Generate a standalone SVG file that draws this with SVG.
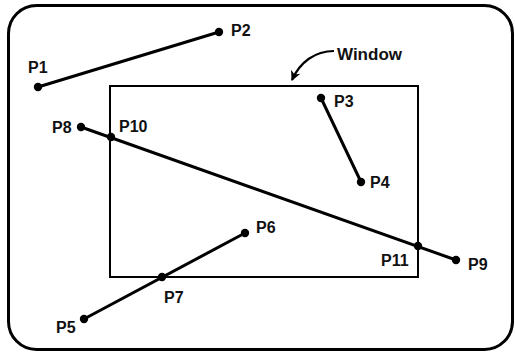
<svg xmlns="http://www.w3.org/2000/svg" width="515" height="355" viewBox="0 0 515 355">
<defs>
<style>
.frame{fill:none;stroke:#000;stroke-width:3}
.win{fill:none;stroke:#000;stroke-width:2}
.seg{stroke:#000;stroke-width:3;stroke-linecap:round}
.dot{fill:#000}
.lbl{font-family:"Liberation Sans",Arial,sans-serif;font-size:16px;font-weight:bold;fill:#111}
.big{font-size:17px}
.call{fill:none;stroke:#000;stroke-width:2.2}
</style>
<marker id="ah" viewBox="0 0 10 10" refX="9" refY="5" markerWidth="10" markerHeight="10" markerUnits="userSpaceOnUse" orient="auto">
<path d="M0,0 L10,5 L0,10 L3,5 Z" fill="#000"/>
</marker>
</defs>
<rect class="frame" x="8.5" y="5.5" width="504" height="344" rx="28" ry="28"/>
<g id="window">
<rect class="win" x="110" y="86" width="308" height="191"/>
<text class="lbl big" x="337" y="60">Window</text>
</g>
<g id="connectors">
<line class="seg" x1="38" y1="87" x2="219" y2="32"/>
<line class="seg" x1="321" y1="98" x2="361" y2="182"/>
<line class="seg" x1="81" y1="127" x2="456" y2="260"/>
<line class="seg" x1="84" y1="319" x2="245" y2="233"/>
<path class="call" d="M334,51 C315,51 300,62 292,80" marker-end="url(#ah)"/>
</g>
<g id="P1"><circle class="dot" cx="38" cy="87" r="4.2"/><text class="lbl" x="28" y="73">P1</text></g>
<g id="P2"><circle class="dot" cx="219" cy="32" r="4.2"/><text class="lbl" x="231" y="36">P2</text></g>
<g id="P3"><circle class="dot" cx="321" cy="98" r="4.2"/><text class="lbl" x="334" y="107">P3</text></g>
<g id="P4"><circle class="dot" cx="361" cy="182" r="4.2"/><text class="lbl" x="370" y="188">P4</text></g>
<g id="P5"><circle class="dot" cx="84" cy="319" r="4.2"/><text class="lbl" x="56" y="333">P5</text></g>
<g id="P6"><circle class="dot" cx="245" cy="233" r="4.2"/><text class="lbl" x="256" y="233">P6</text></g>
<g id="P7"><circle class="dot" cx="162" cy="277" r="4.2"/><text class="lbl" x="164" y="303">P7</text></g>
<g id="P8"><circle class="dot" cx="81" cy="127" r="4.2"/><text class="lbl" x="52" y="133">P8</text></g>
<g id="P9"><circle class="dot" cx="456" cy="260" r="4.2"/><text class="lbl" x="468" y="270">P9</text></g>
<g id="P10"><circle class="dot" cx="111" cy="137" r="4.2"/><text class="lbl" x="119" y="132">P10</text></g>
<g id="P11"><circle class="dot" cx="418" cy="246" r="4.2"/><text class="lbl" x="381" y="266">P11</text></g>
</svg>
